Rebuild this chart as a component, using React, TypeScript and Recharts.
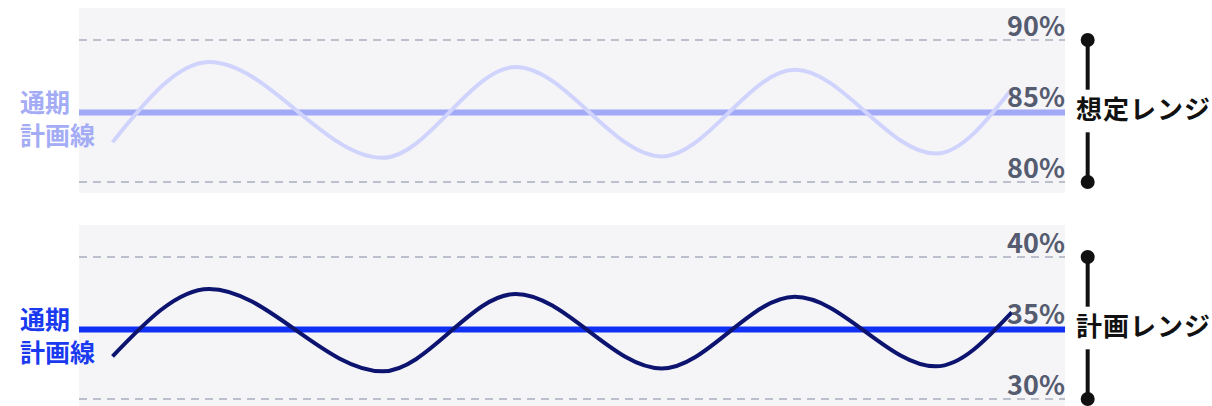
import React from 'react';
import { LineChart, Line, XAxis, YAxis, ReferenceLine, ReferenceDot } from 'recharts';

// x positions of the read points (0-100 across the panel)
const xPos = [3.4, 13.2, 30.8, 44.3, 59.1, 72.6, 86.9, 94.6];
const expectedRate = [82.8, 88.45, 81.7, 88.1, 81.8, 87.9, 82.0, 86.55];
const planRate = [33.0, 37.75, 31.95, 37.4, 32.15, 37.2, 32.3, 36.1];

const expectedTicks = [80, 85, 90];
const planTicks = [30, 35, 40];
const expectedPlanLine = 84.9;
const planPlanLine = 34.9;

const FONT = '"Noto Sans CJK JP", "Noto Sans", sans-serif';
const BRACKET_X = 102.3;

interface PanelProps {
  top: number;
  values: number[];
  ticks: number[];
  planValue: number;
  waveColor: string;
  planColor: string;
  labelColor: string;
  rangeLabel: string;
}

const tickLabel = (value: number) => (props: any) => {
  const vb = props.viewBox || {};
  return (
    <text
      x={vb.x + vb.width}
      y={vb.y - 4}
      textAnchor="end"
      fill="#555c70"
      fontSize={27}
      fontWeight={700}
      fontFamily={FONT}
    >
      {value}%
    </text>
  );
};

const Panel: React.FC<PanelProps> = ({ top, values, ticks, planValue, waveColor, planColor, labelColor, rangeLabel }) => {
  const data = xPos.map((x, i) => ({ x, v: values[i] }));
  const lo = ticks[0];
  const hi = ticks[ticks.length - 1];
  const mid = (lo + hi) / 2;
  const gap = (hi - lo) * 0.15;
  return (
    <div style={{ position: 'absolute', left: 0, top, width: 1212, height: 200 }}>
      <div style={{ position: 'absolute', left: 79, top: 8, width: 986, height: 185, background: '#f5f5f8' }} />
      <div
        style={{
          position: 'absolute', left: 20, top: 85, color: labelColor, fontSize: 25, fontWeight: 700,
          lineHeight: '33px', fontFamily: FONT,
        }}
      >
        通期<br />計画線
      </div>
      <div style={{ position: 'absolute', left: 0, top: 0 }}>
        <LineChart width={1212} height={200} data={data} margin={{ top: 40, right: 147, bottom: 18, left: 79 }}>
          <XAxis type="number" dataKey="x" domain={[0, 100]} hide />
          <YAxis domain={[lo, hi]} hide />
          {[lo, hi].map((v) => (
            <ReferenceLine key={v} y={v} stroke="#a9adbd" strokeWidth={1.5} strokeDasharray="8 6" />
          ))}
          <ReferenceLine y={planValue} stroke={planColor} strokeWidth={6} />
          <Line type="monotone" dataKey="v" stroke={waveColor} strokeWidth={4} dot={false} isAnimationActive={false} />
          {ticks.map((t) => (
            <ReferenceLine key={'t' + t} y={t} stroke="none" label={{ content: tickLabel(t) }} />
          ))}
          <ReferenceLine segment={[{ x: BRACKET_X, y: hi }, { x: BRACKET_X, y: mid + gap }]} stroke="#111" strokeWidth={4} ifOverflow="visible" />
          <ReferenceLine segment={[{ x: BRACKET_X, y: mid - gap }, { x: BRACKET_X, y: lo }]} stroke="#111" strokeWidth={4} ifOverflow="visible" />
          <ReferenceDot x={BRACKET_X} y={hi} r={7} fill="#111" stroke="none" ifOverflow="visible" />
          <ReferenceDot x={BRACKET_X} y={lo} r={7} fill="#111" stroke="none" ifOverflow="visible" />
        </LineChart>
      </div>
      <div
        style={{
          position: 'absolute', left: 1076, top: 95, color: '#111', fontSize: 26, fontWeight: 700,
          lineHeight: '26px', letterSpacing: 1, fontFamily: FONT, whiteSpace: 'nowrap',
        }}
      >
        {rangeLabel}
      </div>
    </div>
  );
};

export default function App() {
  return (
    <div style={{ position: 'absolute', left: 0, top: 0, width: 1212, height: 406, overflow: 'hidden', background: '#fff' }}>
      <Panel
        top={0}
        values={expectedRate}
        ticks={expectedTicks}
        planValue={expectedPlanLine}
        waveColor="#d0d4fc"
        planColor="#a2aaf8"
        labelColor="#a4acf6"
        rangeLabel="想定レンジ"
      />
      <Panel
        top={217}
        values={planRate}
        ticks={planTicks}
        planValue={planPlanLine}
        waveColor="#0c1470"
        planColor="#1030f5"
        labelColor="#1a3af0"
        rangeLabel="計画レンジ"
      />
    </div>
  );
}
